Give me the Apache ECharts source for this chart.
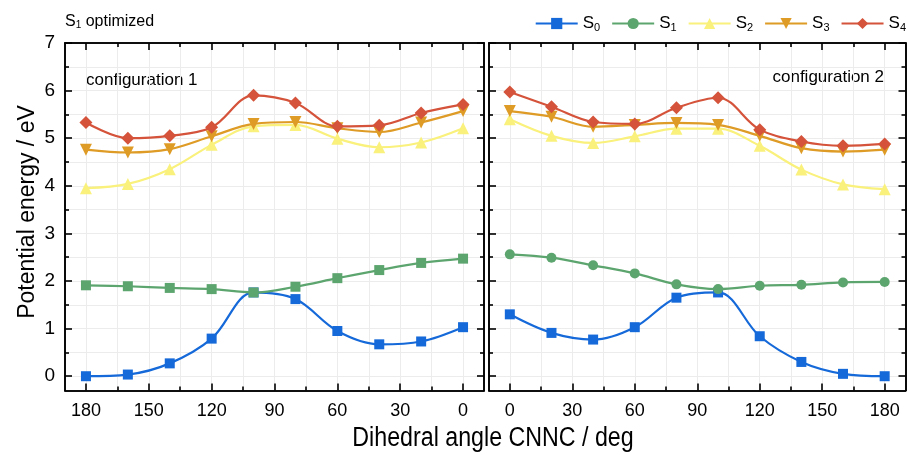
<!DOCTYPE html>
<html>
<head>
<meta charset="utf-8">
<script src="https://cdn.jsdelivr.net/npm/echarts@6/dist/echarts.min.js"></script>
<style>
html,body{margin:0;padding:0;background:#fff;}
#chart{width:909px;height:455px;}
</style>
</head>
<body>
<div id="chart"></div>
<script>
// ---- data ----
const angles = [0, 20, 40, 60, 80, 100, 120, 140, 160, 180];
const seriesNames = ['S0', 'S1', 'S2', 'S3', 'S4'];
// configuration 1 (left panel)
const conf1_S0 = [1.03, 0.73, 0.67, 0.95, 1.62, 1.76, 0.79, 0.27, 0.035, 0.0];
const conf1_S1 = [2.47, 2.38, 2.23, 2.06, 1.88, 1.76, 1.83, 1.855, 1.89, 1.91];
const conf1_S2 = [5.21, 4.91, 4.81, 4.99, 5.28, 5.25, 4.86, 4.35, 4.04, 3.95];
const conf1_S3 = [5.57, 5.33, 5.13, 5.21, 5.34, 5.30, 5.04, 4.77, 4.70, 4.76];
const conf1_S4 = [5.71, 5.53, 5.27, 5.25, 5.74, 5.90, 5.23, 5.05, 5.00, 5.33];
// configuration 2 (right panel)
const conf2_S0 = [1.30, 0.91, 0.77, 1.03, 1.65, 1.76, 0.84, 0.30, 0.05, 0.0];
const conf2_S1 = [2.56, 2.49, 2.33, 2.16, 1.93, 1.83, 1.90, 1.92, 1.97, 1.98];
const conf2_S2 = [5.40, 5.05, 4.90, 5.04, 5.20, 5.20, 4.84, 4.34, 4.03, 3.93];
const conf2_S3 = [5.57, 5.45, 5.24, 5.28, 5.32, 5.28, 5.05, 4.79, 4.72, 4.76];
const conf2_S4 = [5.97, 5.66, 5.34, 5.30, 5.64, 5.85, 5.18, 4.93, 4.84, 4.88];
// tick labels
const xMajorTicks = [0, 30, 60, 90, 120, 150, 180];
const xMinorTicks = [15, 45, 75, 105, 135, 165];
const yMajorTicks = [0, 1, 2, 3, 4, 5, 6, 7];
const yMinorTicks = [0.5, 1.5, 2.5, 3.5, 4.5, 5.5, 6.5];

// ---- styles ----
const colors = ['#1569d9', '#5da56f', '#f9f17c', '#de9b25', '#d4533a'];
const symbols1 = ['rect', 'rect', 'triangle', 'triangle', 'diamond'];
const symbols2 = ['rect', 'circle', 'triangle', 'triangle', 'diamond'];
const rotates = [0, 0, 0, 180, 0];
const sizes = [10, 10, 12, 12, 13];
const FONT = 'Liberation Sans, Arial, sans-serif';

const conf1 = [conf1_S0, conf1_S1, conf1_S2, conf1_S3, conf1_S4];
const conf2 = [conf2_S0, conf2_S1, conf2_S2, conf2_S3, conf2_S4];

const lineStyleAxis = {color: '#000', width: 1.6};
const gridColor = '#ececec';

const xAxes = [];
const yAxes = [];
function addX(grid, pos, vals, len, label, inverse) {
  xAxes.push({
    type: 'value', gridIndex: grid, position: pos, min: -10, max: 190, inverse: inverse,
    axisLine: {show: true, onZero: false, lineStyle: lineStyleAxis},
    axisTick: {show: true, inside: true, length: len, customValues: vals, lineStyle: lineStyleAxis},
    axisLabel: label ? {show: true, customValues: vals, margin: 12, color: '#000', fontSize: 18, fontFamily: FONT} : {show: false},
    splitLine: {show: pos === 'bottom', lineStyle: {color: gridColor, width: 1}}
  });
  return xAxes.length - 1;
}
function addY(grid, pos, vals, len, label) {
  yAxes.push({
    type: 'value', gridIndex: grid, position: pos, min: -0.3, max: 7,
    axisLine: {show: true, onZero: false, lineStyle: lineStyleAxis},
    axisTick: {show: true, inside: true, length: len, customValues: vals, lineStyle: lineStyleAxis},
    axisLabel: label ? {show: true, customValues: vals, margin: 10, color: '#000', fontSize: 19, fontFamily: FONT} : {show: false},
    splitLine: {show: pos === 'left', lineStyle: {color: gridColor, width: 1}}
  });
  return yAxes.length - 1;
}

const mainX = [], mainY = [];
[0, 1].forEach(function (g) {
  const inv = g === 0;
  mainX.push(addX(g, 'bottom', xMajorTicks, 7, true, inv));
  addX(g, 'bottom', xMinorTicks, 4, false, inv);
  addX(g, 'top', xMajorTicks, 7, false, inv);
  addX(g, 'top', xMinorTicks, 4, false, inv);
  mainY.push(addY(g, 'left', yMajorTicks, 7, g === 0));
  addY(g, 'left', yMinorTicks, 4, false);
  addY(g, 'right', yMajorTicks, 7, false);
  addY(g, 'right', yMinorTicks, 4, false);
});

// right panel series first so that the legend takes its symbols (S1 = circle)
const series = [];
[[conf2, 1], [conf1, 0]].forEach(function (pair) {
  const conf = pair[0], g = pair[1];
  conf.forEach(function (vals, i) {
    series.push({
      name: seriesNames[i], type: 'line', xAxisIndex: mainX[g], yAxisIndex: mainY[g],
      data: angles.map(function (a, k) { return [a, vals[k]]; }),
      smooth: 0.35,
      symbol: (g === 0 ? symbols1 : symbols2)[i], symbolSize: sizes[i], symbolRotate: rotates[i],
      showAllSymbol: true,
      lineStyle: {color: colors[i], width: 2.2},
      itemStyle: {color: colors[i]},
      z: 2 + i
    });
  });
});

const chart = echarts.init(document.getElementById('chart'), null, {renderer: 'canvas'});
chart.setOption({
  animation: false,
  backgroundColor: '#fff',
  grid: [
    {left: 65, right: 425, top: 43, bottom: 64.5},
    {left: 489, right: 3.5, top: 43, bottom: 64.5}
  ],
  xAxis: xAxes,
  yAxis: yAxes,
  legend: {
    right: -2, top: 10,
    itemWidth: 42, itemHeight: 14, itemGap: 11,
    data: seriesNames,
    formatter: function (name) { return '{s|S}{sub|' + name.slice(1) + '}'; },
    textStyle: {
      padding: [0, 0, 0, 0],
      rich: {
        s: {fontSize: 17, fontFamily: FONT, color: '#000'},
        sub: {fontSize: 11, fontFamily: FONT, color: '#000', padding: [8, 0, 0, 0]}
      }
    }
  },
  graphic: [
    {type: 'text', left: 65, top: 14, style: {text: '{s|S}{sub|1}{s| optimized}', rich: {
      s: {fontSize: 16, fontFamily: FONT, fill: '#000'},
      sub: {fontSize: 10, fontFamily: FONT, fill: '#000', padding: [7, 0, 0, 0]}
    }}},
    {type: 'text', x: 86, y: 80, style: {text: 'configuration 1', fontSize: 17, fontFamily: FONT, fill: '#000', verticalAlign: 'middle', align: 'left'}},
    {type: 'text', x: 884, y: 77, style: {text: 'configuration 2', fontSize: 17, fontFamily: FONT, fill: '#000', verticalAlign: 'middle', align: 'right'}},
    {type: 'text', x: 493, y: 439, scaleX: 0.86, style: {text: 'Dihedral angle CNNC / deg', fontSize: 27, fontFamily: FONT, fill: '#000', align: 'center', verticalAlign: 'middle'}},
    {type: 'text', x: 28, y: 212, rotation: Math.PI / 2, style: {text: 'Potential energy / eV', fontSize: 23, fontFamily: FONT, fill: '#000', align: 'center', verticalAlign: 'middle'}}
  ],
  series: series
});
</script>
</body>
</html>
